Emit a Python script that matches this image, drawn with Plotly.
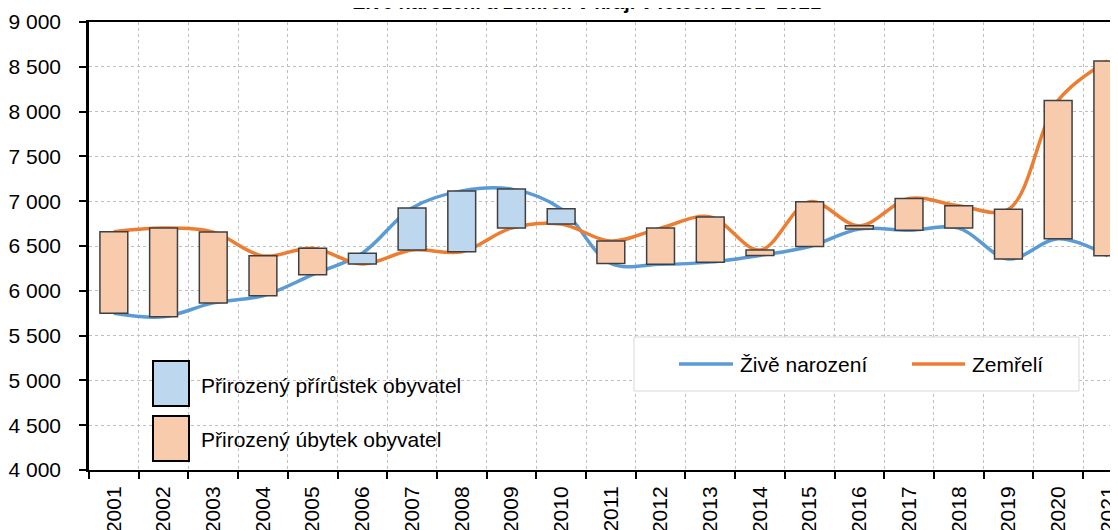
"""
    plot.py
    Zivě narození a zemřelí 2001-2021, plovoucí sloupce = přirozený přírůstek / úbytek.
"""
import plotly.graph_objects as go

# Data
years = [str(y) for y in range(2001, 2022)]
births = [5750, 5710, 5865, 5945, 6180, 6420, 6925, 7115, 7135, 6915, 6305,
          6295, 6320, 6395, 6495, 6690, 6675, 6700, 6355, 6580, 6390]
deaths = [6660, 6700, 6655, 6390, 6475, 6300, 6455, 6435, 6700, 6745, 6555,
          6700, 6825, 6455, 6995, 6725, 7030, 6950, 6910, 8125, 8565]
y_ticks = [4000, 4500, 5000, 5500, 6000, 6500, 7000, 7500, 8000, 8500, 9000]

BLUE = '#5B9BD5'
ORANGE = '#ED7D31'
BLUE_FILL = '#BDD7EE'
ORANGE_FILL = '#F8CBAD'
FONT = 'Liberation Sans, Arial, sans-serif'
FS = 21

# Plot area in page pixels (page body has an 8px margin)
OFF = 8
L, T, W, H = 89, 22, 1037, 448
def px(X):
    return (X - L) / W
def py(Y):
    return (T + H - Y) / H

# Split the difference into increase (blue) and decrease (orange)
inc_base, inc_len, dec_base, dec_len = [], [], [], []
for b, d in zip(births, deaths):
    if b >= d:
        inc_base.append(d); inc_len.append(b - d)
        dec_base.append(None); dec_len.append(None)
    else:
        dec_base.append(b); dec_len.append(d - b)
        inc_base.append(None); inc_len.append(None)

line_births = go.Scatter(x=years, y=births, name='Živě narození', mode='lines',
                         line=dict(color=BLUE, width=3.5, shape='spline', smoothing=1),
                         showlegend=False)
line_deaths = go.Scatter(x=years, y=deaths, name='Zemřelí', mode='lines',
                         line=dict(color=ORANGE, width=3.5, shape='spline', smoothing=1),
                         showlegend=False)
# bars go on an overlaid axis pair so that they are drawn above the lines
bar_inc = go.Bar(x=years, y=inc_len, base=inc_base, name='Přirozený přírůstek obyvatel',
                 width=0.56, xaxis='x2', yaxis='y2', showlegend=False,
                 marker=dict(color=BLUE_FILL, line=dict(color='#404040', width=1.5)))
bar_dec = go.Bar(x=years, y=dec_len, base=dec_base, name='Přirozený úbytek obyvatel',
                 width=0.56, xaxis='x2', yaxis='y2', showlegend=False,
                 marker=dict(color=ORANGE_FILL, line=dict(color='#404040', width=1.5)))

fig = go.Figure(data=[line_births, line_deaths, bar_inc, bar_dec])

xrange = [-0.5, -0.5 + W / 49.7]
yrange = [4000, 9000]

shapes = [
    # left legend swatches
    dict(type='rect', xref='paper', yref='paper', layer='above',
         x0=px(153), x1=px(189), y0=py(406), y1=py(361),
         fillcolor=BLUE_FILL, line=dict(color='black', width=2)),
    dict(type='rect', xref='paper', yref='paper', layer='above',
         x0=px(153), x1=px(189), y0=py(461), y1=py(416),
         fillcolor=ORANGE_FILL, line=dict(color='black', width=2)),
    # right legend box
    dict(type='rect', xref='paper', yref='paper', layer='above',
         x0=px(634), x1=px(1079), y0=py(391), y1=py(337),
         fillcolor='white', line=dict(color='#D9D9D9', width=1)),
    dict(type='line', xref='paper', yref='paper', layer='above',
         x0=px(679), x1=px(733), y0=py(364), y1=py(364),
         line=dict(color=BLUE, width=3.5)),
    dict(type='line', xref='paper', yref='paper', layer='above',
         x0=px(912), x1=px(965), y0=py(364), y1=py(364),
         line=dict(color=ORANGE, width=3.5)),
]

annotations = [
    dict(text='Přirozený přírůstek obyvatel', x=px(199), y=py(385)),
    dict(text='Přirozený úbytek obyvatel', x=px(199), y=py(439)),
    dict(text='Živě narození', x=px(738), y=py(364)),
    dict(text='Zemřelí', x=px(970), y=py(364)),
]
for a in annotations:
    a.update(xref='paper', yref='paper', xanchor='left', yanchor='middle',
             showarrow=False, font=dict(size=FS, color='black', family=FONT))
# title, almost entirely above the visible page
annotations.append(dict(text='<b>Živě narození a zemřelí v kraji v letech 2001–2021</b>',
                        xref='paper', yref='paper', x=px(587), y=py(15),
                        xanchor='center', yanchor='bottom', showarrow=False,
                        font=dict(size=20, color='black', family=FONT)))

fig.update_layout(
    template='none',
    width=L - OFF + W, height=530,
    margin=dict(l=L - OFF, r=0, t=T - OFF, b=530 - (T - OFF) - H, pad=0),
    paper_bgcolor='white', plot_bgcolor='white',
    font=dict(family=FONT, size=FS, color='black'),
    separators=', ',
    barmode='overlay',
    showlegend=False,
    xaxis=dict(type='category', range=xrange, tickson='boundaries',
               showgrid=True, gridcolor='#BFBFBF', griddash='dot', gridwidth=1,
               showline=True, linecolor='black', linewidth=2, mirror=True,
               ticks='outside', ticklen=7, tickwidth=1.5, tickcolor='black',
               tickangle=-90, tickfont=dict(size=FS), ticklabelstandoff=6,
               automargin=False, zeroline=False),
    yaxis=dict(range=yrange, tickvals=y_ticks, separatethousands=True, tickformat=',d',
               showgrid=True, gridcolor='#BFBFBF', griddash='dot', gridwidth=1,
               showline=True, linecolor='black', linewidth=2.5,
               ticks='outside', ticklen=7, tickwidth=1.5, tickcolor='black',
               ticklabelstandoff=14, tickfont=dict(size=FS), automargin=False,
               zeroline=False),
    xaxis2=dict(type='category', overlaying='x', range=xrange, visible=False,
                categoryarray=years),
    yaxis2=dict(overlaying='y', range=yrange, visible=False),
    shapes=shapes,
    annotations=annotations,
)

fig.write_html("out.html")
